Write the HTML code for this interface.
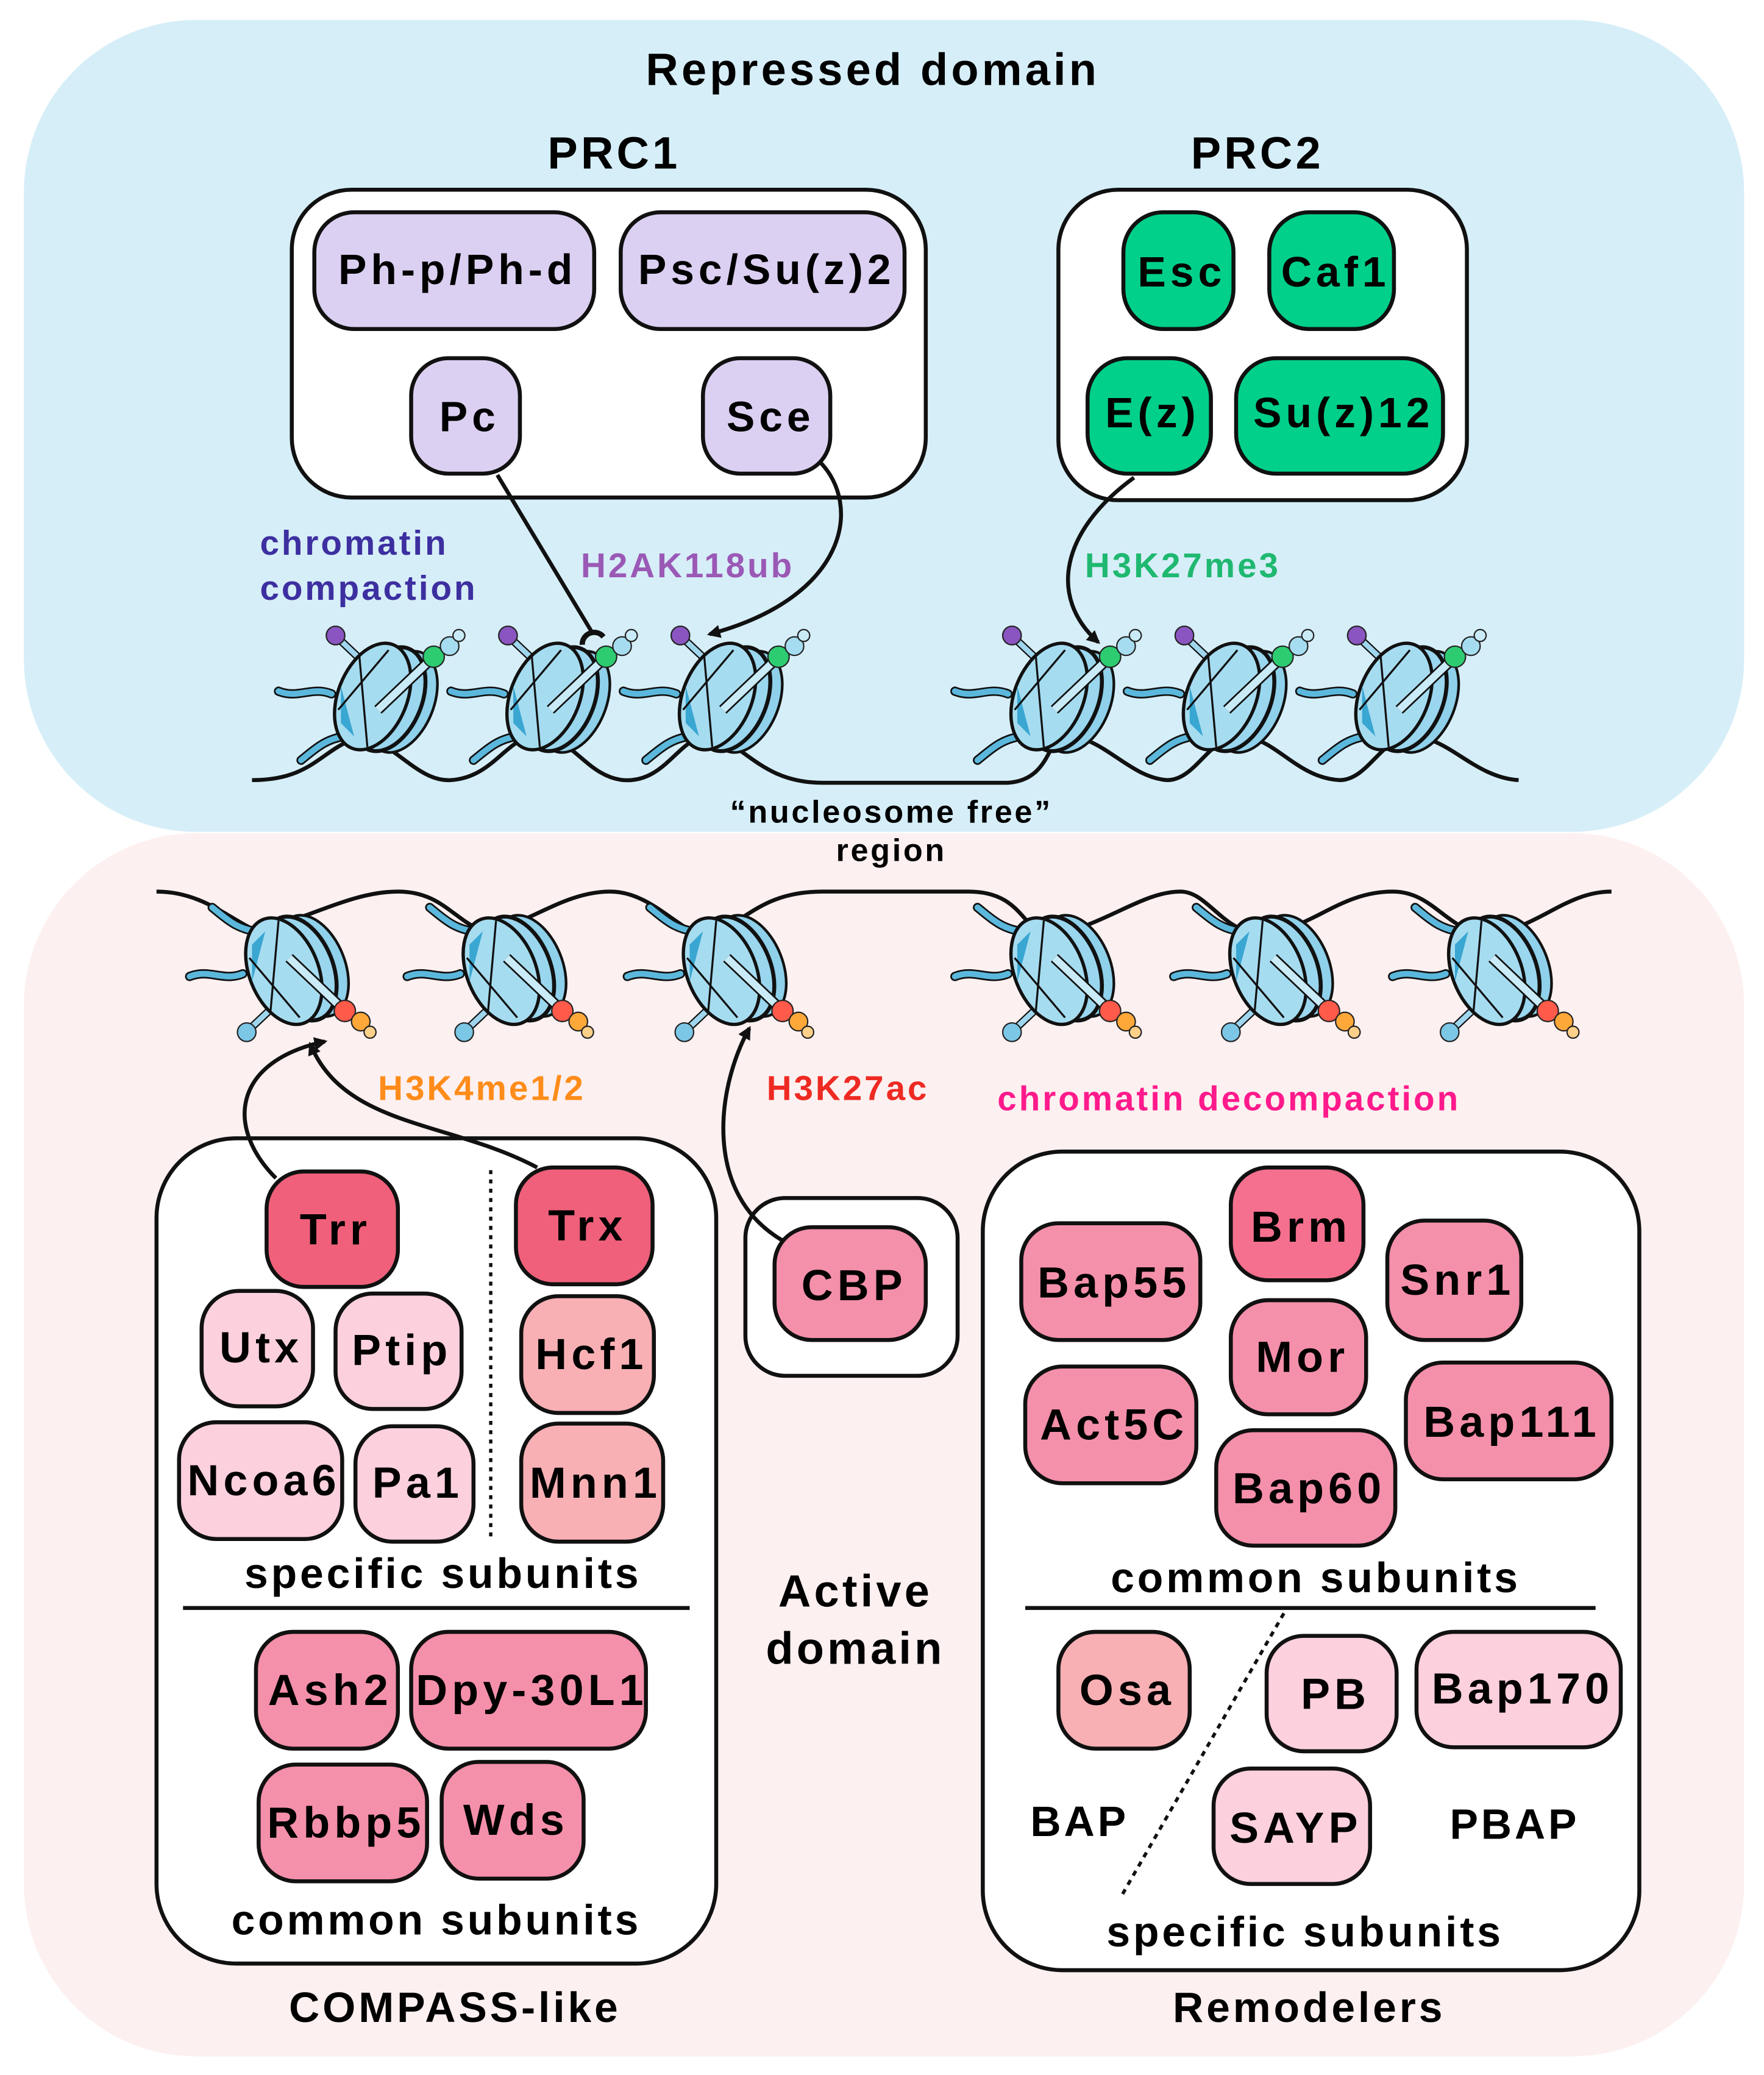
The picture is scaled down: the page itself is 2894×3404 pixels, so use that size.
<!DOCTYPE html>
<html><head><meta charset="utf-8"><style>
html,body{margin:0;padding:0;background:#fff}
svg{display:block}
text{font-family:"Liberation Sans",sans-serif;font-weight:bold;letter-spacing:0.07em}
.p text{letter-spacing:0.1em}
</style></head><body>
<svg width="2894" height="3404" viewBox="0 0 1330 1564" preserveAspectRatio="none" xmlns="http://www.w3.org/2000/svg">
<defs>
<marker id="ah" markerWidth="10" markerHeight="10" refX="8" refY="5" orient="auto" markerUnits="userSpaceOnUse"><path d="M0,0 L10,5 L0,10 z" fill="#111"/></marker>
<g id="nucT">
  <path d="M-35,-2 C-50,-8 -60,2 -75,-4" stroke="#111" stroke-width="7" fill="none" stroke-linecap="round"/>
  <path d="M-35,-2 C-50,-8 -60,2 -75,-4" stroke="#5bb8dc" stroke-width="4.5" fill="none" stroke-linecap="round"/>
  <path d="M-25,30 C-40,32 -48,40 -58,48" stroke="#111" stroke-width="7" fill="none" stroke-linecap="round"/>
  <path d="M-25,30 C-40,32 -48,40 -58,48" stroke="#5bb8dc" stroke-width="4.5" fill="none" stroke-linecap="round"/>
  <line x1="-10" y1="-25" x2="-28" y2="-42" stroke="#111" stroke-width="6"/>
  <line x1="-10" y1="-25" x2="-28" y2="-42" stroke="#9fd6ee" stroke-width="4"/>
  <circle cx="-32" cy="-46" r="7" fill="#8a55c0" stroke="#222" stroke-width="1"/>
  <ellipse cx="18" cy="4" rx="24" ry="40" transform="rotate(22 18 4)" fill="#8fd0ea" stroke="#111" stroke-width="2"/>
  <ellipse cx="8" cy="2" rx="25" ry="41" transform="rotate(22 8 2)" fill="#9ad6ee" stroke="#111" stroke-width="3"/>
  <ellipse cx="-4" cy="0" rx="26" ry="42" transform="rotate(22 -4 0)" fill="#a6dcf0" stroke="#111" stroke-width="2.5"/>
  <path d="M-28,-8 L-18,30 L-28,20 z" fill="#3aa6d2"/>
  <line x1="-30" y1="10" x2="8" y2="-35" stroke="#111" stroke-width="1.5"/>
  <line x1="-14" y1="-30" x2="-8" y2="38" stroke="#111" stroke-width="1.5"/>
  <line x1="0" y1="10" x2="40" y2="-28" stroke="#111" stroke-width="8"/>
  <line x1="0" y1="10" x2="40" y2="-28" stroke="#c9ebf7" stroke-width="5.5"/>
  <circle cx="42" cy="-30" r="8" fill="#2ecc71" stroke="#222" stroke-width="1"/>
  <circle cx="54" cy="-38" r="7" fill="#a6dcf0" stroke="#222" stroke-width="1"/>
  <circle cx="61" cy="-46" r="4.5" fill="#c9ebf7" stroke="#222" stroke-width="1"/>
</g>
<g id="nucB">
  <path d="M-35,2 C-50,8 -60,-2 -75,4" stroke="#111" stroke-width="7" fill="none" stroke-linecap="round"/>
  <path d="M-35,2 C-50,8 -60,-2 -75,4" stroke="#5bb8dc" stroke-width="4.5" fill="none" stroke-linecap="round"/>
  <path d="M-25,-30 C-40,-32 -48,-40 -58,-48" stroke="#111" stroke-width="7" fill="none" stroke-linecap="round"/>
  <path d="M-25,-30 C-40,-32 -48,-40 -58,-48" stroke="#5bb8dc" stroke-width="4.5" fill="none" stroke-linecap="round"/>
  <line x1="-10" y1="25" x2="-28" y2="42" stroke="#111" stroke-width="6"/>
  <line x1="-10" y1="25" x2="-28" y2="42" stroke="#9fd6ee" stroke-width="4"/>
  <circle cx="-32" cy="46" r="7" fill="#7cc6e6" stroke="#222" stroke-width="1"/>
  <ellipse cx="18" cy="-4" rx="24" ry="40" transform="rotate(-22 18 -4)" fill="#8fd0ea" stroke="#111" stroke-width="2"/>
  <ellipse cx="8" cy="-2" rx="25" ry="41" transform="rotate(-22 8 -2)" fill="#9ad6ee" stroke="#111" stroke-width="3"/>
  <ellipse cx="-4" cy="0" rx="26" ry="42" transform="rotate(-22 -4 0)" fill="#a6dcf0" stroke="#111" stroke-width="2.5"/>
  <path d="M-28,8 L-18,-30 L-28,-20 z" fill="#3aa6d2"/>
  <line x1="-30" y1="-10" x2="8" y2="35" stroke="#111" stroke-width="1.5"/>
  <line x1="-14" y1="30" x2="-8" y2="-38" stroke="#111" stroke-width="1.5"/>
  <line x1="0" y1="-10" x2="40" y2="28" stroke="#111" stroke-width="8"/>
  <line x1="0" y1="-10" x2="40" y2="28" stroke="#c9ebf7" stroke-width="5.5"/>
  <circle cx="42" cy="30" r="8" fill="#ff5a4a" stroke="#222" stroke-width="1"/>
  <circle cx="54" cy="38" r="7" fill="#ffa83a" stroke="#222" stroke-width="1"/>
  <circle cx="61" cy="46" r="4.5" fill="#ffd08a" stroke="#222" stroke-width="1"/>
</g>
</defs>

<rect x="18" y="15" width="1297" height="612" rx="130" fill="#d6eef8"/>
<rect x="18" y="628" width="1297" height="922" rx="130" fill="#fdf0f0"/>

<text x="658" y="64" font-size="34" text-anchor="middle">Repressed domain</text>
<text x="463" y="127" font-size="34" text-anchor="middle">PRC1</text>
<text x="948" y="127" font-size="34" text-anchor="middle">PRC2</text>

<rect x="220" y="143" width="478" height="232" rx="45" fill="#fff" stroke="#111" stroke-width="3"/>
<rect x="798" y="143" width="308" height="234" rx="45" fill="#fff" stroke="#111" stroke-width="3"/>

<g stroke="#111" stroke-width="3" fill="#dcd0f2">
<rect x="237" y="160" width="211" height="88" rx="30"/>
<rect x="468" y="160" width="214" height="88" rx="30"/>
<rect x="310" y="270" width="82" height="87" rx="28"/>
<rect x="530" y="270" width="96" height="87" rx="28"/>
</g>
<g stroke="#111" stroke-width="3" fill="#00d08a">
<rect x="847" y="160" width="83" height="88" rx="30"/>
<rect x="957" y="160" width="94" height="88" rx="30"/>
<rect x="820" y="270" width="93" height="87" rx="30"/>
<rect x="932" y="270" width="156" height="87" rx="30"/>
</g>
<g font-size="32" text-anchor="middle" class="p">
<text x="345" y="214">Ph-p/Ph-d</text>
<text x="578" y="214">Psc/Su(z)2</text>
<text x="354" y="325">Pc</text>
<text x="581" y="325">Sce</text>
<text x="891" y="216">Esc</text>
<text x="1007" y="216">Caf1</text>
<text x="869" y="322">E(z)</text>
<text x="1013" y="322">Su(z)12</text>
</g>

<text x="196" y="418" font-size="26" fill="#3d2fa0">chromatin</text>
<text x="196" y="452" font-size="26" fill="#3d2fa0">compaction</text>
<text x="438" y="435" font-size="26" fill="#9b59b6">H2AK118ub</text>
<text x="818" y="435" font-size="26" fill="#1fb870">H3K27me3</text>

<path d="M190,588 C230,588 240,570 260,560 C290,545 310,590 340,588 C370,586 380,560 400,555 C430,550 440,585 470,588 C500,590 510,560 530,555 C560,555 570,590 620,590 L760,590 C790,588 790,560 800,555 C830,552 850,586 880,588 C900,588 910,560 930,555 C960,552 975,586 1010,588 C1030,588 1040,560 1060,555 C1090,552 1110,586 1145,588" stroke="#111" stroke-width="3" fill="none"/>
<use href="#nucT" x="285" y="525"/>
<use href="#nucT" x="415" y="525"/>
<use href="#nucT" x="545" y="525"/>
<use href="#nucT" x="795" y="525"/>
<use href="#nucT" x="925" y="525"/>
<use href="#nucT" x="1055" y="525"/>

<line x1="375" y1="358" x2="446" y2="476" stroke="#111" stroke-width="3"/>
<path d="M439,486 A9,9 0 0 1 455,480" stroke="#111" stroke-width="4" fill="none"/>
<path d="M618,348 C650,380 640,450 535,478" stroke="#111" stroke-width="3" fill="none" marker-end="url(#ah)"/>
<path d="M855,360 C800,400 790,450 828,484" stroke="#111" stroke-width="3" fill="none" marker-end="url(#ah)"/>

<text x="672" y="620" font-size="24" text-anchor="middle">“nucleosome free”</text>
<text x="672" y="649" font-size="24" text-anchor="middle">region</text>

<path d="M118,672 C150,672 170,690 190,700 C220,700 260,672 300,672 C330,672 340,690 360,700 C390,705 420,672 460,672 C490,672 510,700 530,705 C560,700 570,672 620,672 L730,672 C770,672 770,700 790,705 C830,700 860,672 890,672 C910,672 920,700 950,705 C990,700 1010,672 1050,672 C1080,672 1090,700 1120,705 C1160,700 1180,672 1215,672" stroke="#111" stroke-width="3" fill="none"/>
<use href="#nucB" x="218" y="732"/>
<use href="#nucB" x="382" y="732"/>
<use href="#nucB" x="548" y="732"/>
<use href="#nucB" x="795" y="732"/>
<use href="#nucB" x="960" y="732"/>
<use href="#nucB" x="1125" y="732"/>

<text x="285" y="829" font-size="26" fill="#ff8c1a">H3K4me1/2</text>
<text x="578" y="829" font-size="26" fill="#ee2a22">H3K27ac</text>
<text x="752" y="837" font-size="26" fill="#ff1a8c">chromatin decompaction</text>

<rect x="118" y="858" width="422" height="622" rx="60" fill="#fff" stroke="#111" stroke-width="3"/>
<rect x="741" y="868" width="495" height="617" rx="60" fill="#fff" stroke="#111" stroke-width="3"/>
<rect x="562" y="903" width="160" height="134" rx="30" fill="#fff" stroke="#111" stroke-width="3"/>

<path d="M208,888 C170,850 175,800 245,785" stroke="#111" stroke-width="3" fill="none" marker-end="url(#ah)"/>
<path d="M405,880 C340,845 260,850 234,787" stroke="#111" stroke-width="3" fill="none" marker-end="url(#ah)"/>
<path d="M590,935 C530,900 540,820 565,775" stroke="#111" stroke-width="3" fill="none" marker-end="url(#ah)"/>

<line x1="370" y1="882" x2="370" y2="1160" stroke="#111" stroke-width="2.5" stroke-dasharray="3,4"/>
<line x1="138" y1="1212" x2="520" y2="1212" stroke="#111" stroke-width="3"/>
<line x1="773" y1="1212" x2="1203" y2="1212" stroke="#111" stroke-width="3"/>
<line x1="968" y1="1216" x2="845" y2="1430" stroke="#111" stroke-width="2.5" stroke-dasharray="4,4"/>

<g stroke="#111" stroke-width="3">
<rect x="201" y="883" width="99" height="87" rx="28" fill="#f0607a"/>
<rect x="389" y="880" width="103" height="88" rx="28" fill="#f0607a"/>
<rect x="152" y="973" width="84" height="87" rx="28" fill="#fcd0dc"/>
<rect x="253" y="975" width="95" height="87" rx="28" fill="#fcd0dc"/>
<rect x="135" y="1072" width="123" height="88" rx="28" fill="#fcd0dc"/>
<rect x="268" y="1075" width="89" height="87" rx="28" fill="#fcd0dc"/>
<rect x="393" y="977" width="100" height="88" rx="28" fill="#f8b0b4"/>
<rect x="393" y="1073" width="107" height="89" rx="28" fill="#f8b0b4"/>
<rect x="193" y="1230" width="107" height="88" rx="28" fill="#f590aa"/>
<rect x="310" y="1230" width="177" height="88" rx="28" fill="#f590aa"/>
<rect x="195" y="1330" width="127" height="88" rx="28" fill="#f590aa"/>
<rect x="333" y="1328" width="107" height="88" rx="28" fill="#f590aa"/>
<rect x="584" y="925" width="114" height="85" rx="28" fill="#f590aa"/>
<rect x="770" y="922" width="135" height="88" rx="28" fill="#f590aa"/>
<rect x="928" y="880" width="100" height="85" rx="28" fill="#f5708e"/>
<rect x="1046" y="920" width="101" height="90" rx="28" fill="#f590aa"/>
<rect x="773" y="1030" width="129" height="88" rx="28" fill="#f590aa"/>
<rect x="928" y="980" width="102" height="86" rx="28" fill="#f590aa"/>
<rect x="1060" y="1027" width="155" height="88" rx="28" fill="#f590aa"/>
<rect x="917" y="1078" width="135" height="87" rx="28" fill="#f590aa"/>
<rect x="798" y="1230" width="99" height="88" rx="28" fill="#f8b0b4"/>
<rect x="955" y="1233" width="98" height="87" rx="28" fill="#fcd0dc"/>
<rect x="1068" y="1230" width="154" height="87" rx="28" fill="#fcd0dc"/>
<rect x="915" y="1333" width="118" height="87" rx="28" fill="#fcd0dc"/>
</g>
<g font-size="33" text-anchor="middle" class="p">
<text x="253" y="938">Trr</text>
<text x="443" y="935">Trx</text>
<text x="197" y="1027">Utx</text>
<text x="303" y="1029">Ptip</text>
<text x="199" y="1127">Ncoa6</text>
<text x="315" y="1129">Pa1</text>
<text x="446" y="1032">Hcf1</text>
<text x="449" y="1129">Mnn1</text>
<text x="249" y="1285">Ash2</text>
<text x="401" y="1285">Dpy-30L1</text>
<text x="261" y="1385">Rbbp5</text>
<text x="389" y="1383">Wds</text>
<text x="644" y="980">CBP</text>
<text x="840" y="978">Bap55</text>
<text x="981" y="936">Brm</text>
<text x="1099" y="976">Snr1</text>
<text x="840" y="1085">Act5C</text>
<text x="982" y="1034">Mor</text>
<text x="1140" y="1083">Bap111</text>
<text x="987" y="1133">Bap60</text>
<text x="850" y="1285">Osa</text>
<text x="1007" y="1288">PB</text>
<text x="1148" y="1284">Bap170</text>
<text x="977" y="1389">SAYP</text>
</g>
<g font-size="32" text-anchor="middle">
<text x="334" y="1197">specific subunits</text>
<text x="329" y="1458">common subunits</text>
<text x="343" y="1524">COMPASS-like</text>
<text x="992" y="1200">common subunits</text>
<text x="814" y="1384">BAP</text>
<text x="1142" y="1386">PBAP</text>
<text x="984" y="1467">specific subunits</text>
<text x="987" y="1524">Remodelers</text>
<text x="645" y="1211" font-size="34">Active</text>
<text x="645" y="1254" font-size="34">domain</text>
</g>
</svg>
</body></html>
